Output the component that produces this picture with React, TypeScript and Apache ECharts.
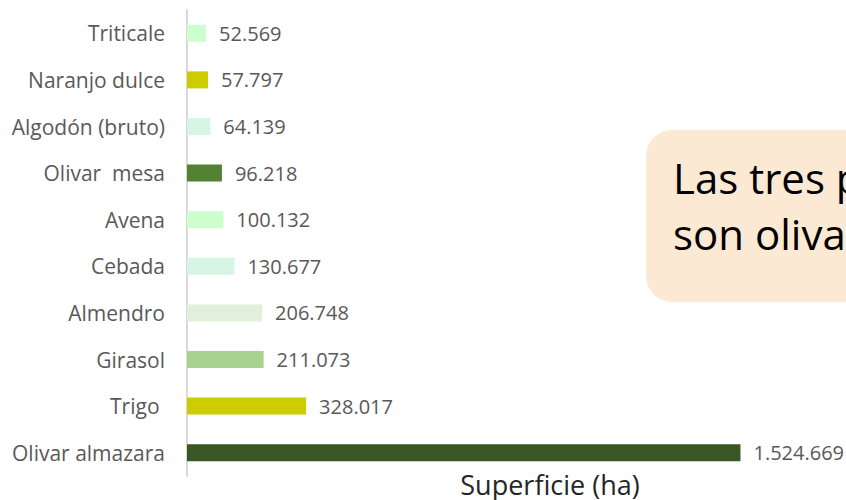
import React, { useEffect, useRef } from "react";
import * as echarts from "echarts";

const categories = [
  "Triticale",
  "Naranjo dulce",
  "Algodón (bruto)",
  "Olivar  mesa",
  "Avena",
  "Cebada",
  "Almendro",
  "Girasol",
  "Trigo ",
  "Olivar almazara",
];
const values = [52569, 57797, 64139, 96218, 100132, 130677, 206748, 211073, 328017, 1524669];
const barColors = [
  "#CCFFCC",
  "#CCCC00",
  "#D6F5E5",
  "#548235",
  "#CCFFCC",
  "#D6F5E5",
  "#E2EFDA",
  "#A9D18E",
  "#CCCC00",
  "#385723",
];
const axisTitle = "Superficie (ha)";
const boxLines = ["Las tres principales superficies", "son olivar almazara, trigo y girasol"];

const fmt = (v: number) => String(v).replace(/\B(?=(\d{3})+(?!\d))/g, ".");

export default function App() {
  const ref = useRef<HTMLDivElement>(null);
  useEffect(() => {
    document.body.style.margin = "0";
    document.body.style.overflow = "hidden";
    if (!ref.current) return;
    const chart = echarts.init(ref.current, undefined, { renderer: "svg" });
    chart.setOption({
      animation: false,
      grid: {
        left: 187,
        top: 10,
        width: 726,
        height: 466,
        containLabel: false,
        outerBoundsMode: "none",
      },
      xAxis: {
        type: "value",
        min: 0,
        max: 2000000,
        axisLine: { show: false },
        axisTick: { show: false },
        axisLabel: { show: false },
        splitLine: { show: false },
        name: axisTitle,
        nameLocation: "middle",
        nameGap: 8,
        nameTextStyle: {
          fontFamily: "Open Sans",
          fontSize: 27,
          color: "#262626",
          verticalAlign: "middle",
        },
      },
      yAxis: {
        type: "category",
        inverse: true,
        data: categories,
        axisLine: { show: true, lineStyle: { color: "#D9D9D9", width: 2 } },
        axisTick: { show: false },
        axisLabel: { fontFamily: "Open Sans", fontSize: 21, color: "#595959", margin: 22 },
      },
      series: [
        {
          type: "bar",
          barWidth: 17,
          data: values.map((v, i) => ({ value: v, itemStyle: { color: barColors[i] } })),
          label: {
            show: true,
            position: "right",
            distance: 13,
            fontFamily: "Open Sans",
            fontSize: 20,
            color: "#595959",
            formatter: (p: any) => fmt(p.value),
          },
        },
      ],
      graphic: [
        {
          type: "rect",
          shape: { x: 646, y: 130, width: 300, height: 172, r: 26 },
          style: { fill: "#FBE9D3" },
          z: 10,
        },
        {
          type: "text",
          x: 673,
          y: 149,
          z: 11,
          style: {
            text: boxLines.join("\n"),
            fontFamily: "Open Sans",
            fontSize: 42,
            lineHeight: 56,
            fill: "#000000",
          },
        },
      ],
    });
    return () => chart.dispose();
  }, []);
  return <div ref={ref} style={{ width: 846, height: 500 }} />;
}
